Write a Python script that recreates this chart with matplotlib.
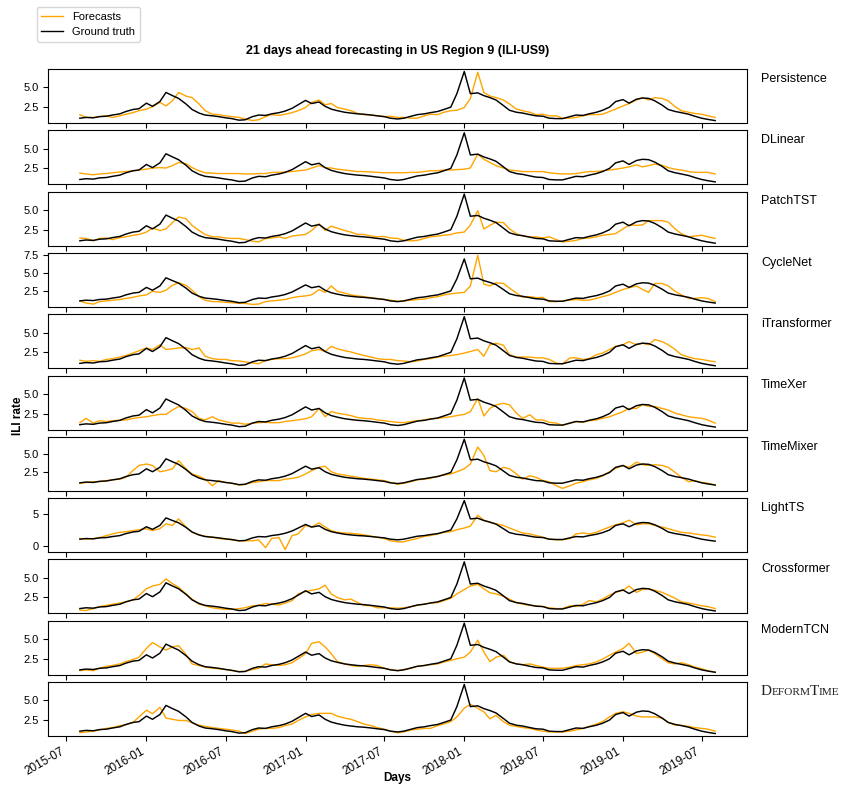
import matplotlib
matplotlib.use("Agg")
import matplotlib.pyplot as plt
import matplotlib.dates as mdates
from matplotlib.lines import Line2D
from matplotlib.ticker import MultipleLocator
from matplotlib.offsetbox import TextArea, HPacker, AnchoredOffsetbox
import pandas as pd

plt.rcParams["font.family"] = ["Liberation Sans", "DejaVu Sans"]

# Semi-monthly sampling dates (1st and 15th of each month)
dates = pd.date_range("2015-08-01", periods=97, freq="SMS")

ground_truth = [
    1.1, 1.2, 1.15, 1.3, 1.35, 1.5, 1.65, 1.95, 2.2, 2.3,
    3.0, 2.6, 3.2, 4.35, 3.95, 3.6, 2.9, 2.2, 1.75, 1.5,
    1.4, 1.3, 1.15, 1.05, 0.85, 0.9, 1.3, 1.5, 1.45, 1.65,
    1.8, 2.0, 2.35, 2.8, 3.35, 2.95, 3.15, 2.6, 2.25, 2.05,
    1.85, 1.75, 1.65, 1.6, 1.5, 1.4, 1.3, 1.1, 1.0, 1.1,
    1.35, 1.55, 1.65, 1.8, 1.95, 2.2, 2.5, 4.2, 7.0, 4.2,
    4.3, 3.95, 3.7, 3.4, 2.7, 2.1, 1.85, 1.75, 1.55, 1.4,
    1.35, 1.1, 1.05, 1.05, 1.3, 1.5, 1.45, 1.65, 1.85, 2.1,
    2.5, 3.2, 3.45, 3.0, 3.5, 3.65, 3.6, 3.3, 2.75, 2.2,
    1.95, 1.8, 1.6, 1.35, 1.1, 0.95, 0.8,
]

persistence = [
    1.55, 1.2, 1.2, 1.3, 1.4, 1.2, 1.4, 1.6, 1.8, 2.05,
    2.25, 2.55, 3.1, 2.65, 3.3, 4.35, 3.9, 3.7, 2.9, 2.05,
    1.6, 1.55, 1.4, 1.3, 1.2, 1.0, 0.8, 0.9, 1.3, 1.55,
    1.45, 1.6, 1.8, 2.05, 2.45, 3.1, 3.4, 2.8, 2.95, 2.45,
    2.25, 2.05, 1.7, 1.55, 1.5, 1.4, 1.3, 1.35, 1.2, 1.2,
    1.1, 1.1, 1.4, 1.6, 1.55, 1.85, 2.05, 2.1, 2.45, 3.6,
    6.9, 4.35, 3.9, 3.7, 3.4, 2.9, 2.25, 2.05, 1.85, 1.55,
    1.6, 1.4, 1.4, 1.1, 1.1, 1.2, 1.4, 1.55, 1.55, 1.6,
    1.95, 2.25, 2.65, 2.95, 3.4, 3.7, 3.4, 3.7, 3.6, 3.3,
    2.55, 2.05, 1.85, 1.7, 1.6, 1.4, 1.2,
]

dlinear = [
    1.9, 1.8, 1.7, 1.8, 1.85, 1.95, 2.05, 2.1, 2.2, 2.3,
    2.4, 2.55, 2.6, 2.55, 2.85, 3.25, 3.1, 2.6, 2.2, 1.95,
    1.9, 1.85, 1.85, 1.85, 1.85, 1.8, 1.8, 1.85, 1.85, 2.0,
    2.0, 2.05, 2.1, 2.2, 2.3, 2.55, 2.85, 2.6, 2.55, 2.4,
    2.3, 2.2, 2.1, 2.1, 2.05, 2.0, 1.95, 1.95, 1.95, 1.95,
    2.0, 2.0, 2.1, 2.2, 2.2, 2.3, 2.3, 2.35, 2.4, 2.55,
    4.3, 3.65, 3.25, 2.85, 2.55, 2.3, 2.2, 2.1, 2.1, 2.1,
    2.1, 1.95, 1.85, 1.8, 1.8, 1.85, 2.0, 2.1, 2.1, 2.2,
    2.3, 2.4, 2.55, 2.7, 2.95, 2.7, 2.85, 3.05, 2.9, 2.6,
    2.4, 2.3, 2.1, 2.0, 2.0, 2.0, 1.8,
]

patchtst = [
    1.45, 1.4, 1.1, 1.4, 1.45, 1.25, 1.5, 1.6, 1.8, 1.9,
    2.2, 2.7, 2.4, 2.6, 3.4, 4.1, 3.9, 3.05, 2.4, 1.9,
    1.6, 1.6, 1.45, 1.4, 1.4, 1.25, 1.05, 0.95, 1.4, 1.45,
    1.6, 1.4, 1.7, 1.8, 1.9, 2.4, 3.25, 2.4, 2.95, 2.7,
    2.4, 2.2, 1.9, 1.9, 1.7, 1.6, 1.65, 1.45, 1.4, 1.15,
    1.1, 1.15, 1.4, 1.6, 1.7, 1.8, 1.9, 2.1, 2.2, 3.1,
    4.9, 2.6, 3.05, 3.45, 3.4, 2.6, 2.0, 1.7, 1.6, 1.6,
    1.45, 1.6, 1.25, 0.95, 1.05, 1.15, 1.4, 1.45, 1.6, 1.8,
    1.9, 2.0, 2.6, 3.1, 3.05, 3.1, 3.65, 3.65, 3.65, 3.45,
    2.6, 2.0, 1.6, 1.7, 1.8, 1.6, 1.4,
]

cyclenet = [
    1.1, 0.8, 0.65, 1.0, 1.1, 1.2, 1.3, 1.45, 1.6, 1.8,
    1.95, 2.45, 2.3, 2.6, 3.3, 3.65, 3.3, 2.6, 1.7, 1.2,
    1.0, 1.0, 0.9, 0.85, 0.75, 0.75, 0.6, 0.65, 1.0, 1.1,
    1.2, 1.3, 1.55, 1.7, 1.8, 1.95, 2.7, 2.3, 3.2, 2.45,
    2.2, 1.95, 1.8, 1.7, 1.55, 1.45, 1.3, 1.2, 1.05, 1.1,
    1.2, 1.3, 1.35, 1.55, 1.7, 1.95, 2.1, 2.2, 2.3, 3.2,
    7.5, 3.45, 3.2, 3.65, 3.55, 2.9, 2.2, 1.6, 1.7, 1.55,
    1.6, 1.0, 1.0, 1.1, 1.2, 1.3, 1.2, 1.2, 1.45, 1.7,
    1.95, 2.3, 2.7, 2.95, 3.2, 2.7, 2.3, 3.55, 3.55, 3.2,
    2.45, 1.95, 1.45, 1.45, 1.55, 1.45, 1.0,
]

itransformer = [
    1.5, 1.35, 1.45, 1.35, 1.6, 1.7, 1.9, 2.1, 2.4, 2.7,
    3.05, 2.85, 3.45, 2.85, 2.95, 3.05, 3.1, 2.85, 3.05, 2.0,
    1.7, 1.6, 1.6, 1.45, 1.4, 1.3, 1.15, 1.05, 1.45, 1.6,
    1.7, 1.7, 1.8, 2.0, 2.3, 2.7, 2.85, 2.6, 3.25, 2.95,
    2.7, 2.55, 2.3, 2.1, 1.9, 1.7, 1.6, 1.6, 1.45, 1.4,
    1.3, 1.4, 1.6, 1.7, 1.9, 2.0, 2.1, 2.2, 2.4, 2.6,
    2.85, 2.0, 3.45, 3.65, 3.4, 2.2, 1.9, 1.9, 1.9, 1.8,
    1.8, 1.6, 1.15, 1.05, 1.8, 1.8, 1.6, 1.7, 2.2, 2.4,
    2.85, 3.25, 3.45, 3.85, 3.45, 3.65, 3.45, 4.1, 3.85, 3.45,
    2.85, 2.2, 1.9, 1.7, 1.6, 1.45, 1.3,
]

timexer = [
    1.35, 1.9, 1.3, 1.6, 1.5, 1.6, 1.65, 1.7, 1.9, 2.0,
    2.1, 2.25, 2.4, 2.4, 2.95, 3.4, 3.15, 2.75, 1.9, 1.7,
    2.1, 1.7, 1.5, 1.3, 1.3, 1.15, 1.3, 1.35, 1.4, 1.35,
    1.35, 1.5, 1.6, 1.7, 1.85, 2.1, 3.15, 2.1, 2.75, 2.55,
    2.4, 2.25, 2.0, 1.9, 1.85, 1.7, 1.6, 1.5, 1.4, 1.35,
    1.5, 1.6, 1.7, 1.85, 1.9, 2.0, 2.1, 2.25, 2.4, 2.75,
    4.4, 2.2, 3.15, 3.6, 3.8, 3.6, 2.55, 1.9, 2.35, 1.7,
    1.7, 1.4, 1.3, 1.0, 1.3, 1.5, 1.4, 1.6, 1.7, 1.9,
    2.1, 2.4, 2.75, 3.15, 3.15, 3.65, 3.4, 3.4, 3.15, 2.95,
    2.55, 2.35, 2.1, 2.0, 1.9, 1.7, 1.3,
]

timemixer = [
    1.0, 1.15, 1.25, 1.25, 1.4, 1.5, 1.6, 1.85, 2.75, 3.45,
    3.65, 3.45, 2.6, 2.75, 3.0, 4.1, 3.0, 2.3, 2.0, 1.6,
    0.7, 1.4, 1.15, 1.05, 0.8, 0.9, 1.15, 1.25, 1.4, 1.4,
    1.4, 1.6, 1.7, 1.85, 2.3, 2.75, 3.2, 3.35, 2.6, 2.3,
    2.15, 2.0, 1.85, 1.7, 1.6, 1.5, 1.4, 1.15, 0.9, 1.05,
    1.25, 1.5, 1.6, 1.7, 2.0, 2.15, 2.3, 2.6, 3.0, 3.65,
    5.95, 4.8, 2.75, 2.6, 3.2, 3.0, 2.3, 1.6, 2.05, 1.85,
    1.4, 1.25, 0.7, 0.35, 0.7, 1.05, 1.25, 1.5, 1.7, 2.05,
    2.6, 3.05, 3.45, 3.2, 3.9, 3.55, 3.45, 3.55, 3.45, 3.2,
    2.5, 1.85, 1.25, 1.4, 1.15, 1.05, 0.8,
]

lightts = [
    1.2, 1.1, 1.2, 1.35, 1.65, 1.9, 2.15, 2.25, 2.4, 2.55,
    2.7, 2.4, 2.7, 3.45, 3.2, 4.2, 2.95, 2.15, 1.75, 1.55,
    1.4, 1.2, 1.1, 1.0, 0.85, 0.85, 0.85, 1.0, -0.2, 1.2,
    1.35, -0.5, 1.65, 1.9, 3.2, 2.95, 3.6, 2.95, 2.4, 2.15,
    2.05, 2.0, 1.9, 1.75, 1.55, 1.4, 1.2, 0.85, 0.7, 0.7,
    1.0, 1.2, 1.55, 1.65, 1.9, 2.15, 2.25, 2.55, 2.8, 3.1,
    4.75, 4.0, 3.7, 3.45, 3.2, 2.8, 2.4, 2.05, 1.9, 1.65,
    1.4, 1.1, 1.0, 1.0, 1.2, 1.9, 2.05, 1.9, 2.15, 2.55,
    2.95, 3.3, 3.6, 4.0, 3.3, 3.45, 3.45, 3.2, 2.95, 2.7,
    2.4, 2.15, 2.05, 1.9, 1.75, 1.65, 1.4,
]

crossformer = [
    0.9, 0.85, 1.1, 1.35, 1.5, 1.65, 1.8, 1.95, 2.2, 2.75,
    3.6, 3.95, 4.15, 4.85, 4.25, 3.8, 2.95, 2.3, 1.65, 1.45,
    1.2, 1.1, 1.0, 1.0, 1.1, 1.2, 1.45, 1.5, 1.75, 1.65,
    1.55, 1.8, 2.1, 2.95, 3.25, 3.4, 3.6, 4.05, 2.95, 2.5,
    2.2, 2.3, 1.85, 1.5, 1.45, 1.2, 1.2, 1.2, 1.15, 1.2,
    1.35, 1.5, 1.65, 1.8, 1.85, 2.1, 2.4, 2.95, 3.5, 3.95,
    4.15, 3.6, 3.1, 2.95, 2.65, 2.3, 1.85, 1.65, 1.5, 1.45,
    1.35, 1.2, 1.1, 1.1, 1.45, 1.35, 1.65, 2.1, 1.95, 2.3,
    2.8, 3.15, 3.4, 3.95, 3.15, 3.5, 3.6, 3.4, 3.15, 2.8,
    2.4, 1.95, 1.8, 1.65, 1.45, 1.35, 1.1,
]

moderntcn = [
    1.0, 1.1, 1.0, 1.3, 1.55, 1.65, 1.85, 2.15, 2.4, 2.7,
    3.8, 4.55, 4.0, 3.6, 4.0, 4.15, 3.05, 1.85, 1.65, 1.45,
    1.3, 1.25, 1.15, 1.0, 0.9, 0.9, 1.15, 1.3, 1.85, 1.75,
    1.65, 1.75, 2.0, 2.5, 3.15, 4.45, 4.65, 4.0, 3.15, 2.15,
    1.85, 1.65, 1.55, 1.65, 1.75, 1.65, 1.3, 1.15, 1.0, 1.15,
    1.3, 1.55, 1.65, 1.75, 1.85, 2.1, 2.3, 2.5, 2.7, 3.35,
    4.85, 3.35, 2.15, 2.7, 2.95, 2.15, 1.85, 1.75, 1.85, 1.65,
    1.45, 1.3, 1.3, 1.3, 1.45, 1.65, 1.75, 1.85, 2.1, 2.45,
    2.95, 3.35, 3.8, 4.45, 3.15, 3.35, 3.6, 3.15, 2.5, 2.0,
    1.85, 2.0, 1.75, 1.45, 1.25, 1.0, 0.8,
]

deformtime = [
    0.9, 1.0, 1.1, 1.25, 1.45, 1.55, 1.8, 1.9, 2.2, 2.9,
    3.75, 3.3, 4.1, 2.75, 2.6, 2.45, 2.45, 2.15, 1.85, 1.7,
    1.55, 1.45, 1.35, 1.25, 1.1, 0.8, 1.1, 1.35, 1.45, 1.45,
    1.55, 1.8, 2.0, 2.45, 2.9, 3.2, 3.35, 3.35, 3.35, 3.0,
    2.75, 2.6, 2.3, 2.0, 1.8, 1.55, 1.35, 1.1, 0.9, 1.0,
    1.25, 1.35, 1.45, 1.45, 1.8, 2.0, 2.3, 2.9, 4.0, 4.5,
    4.0, 3.55, 2.65, 3.1, 2.3, 1.85, 1.7, 1.55, 1.45, 1.25,
    1.1, 1.0, 1.0, 1.0, 1.1, 1.25, 1.45, 1.7, 2.0, 2.3,
    2.9, 3.35, 3.55, 3.35, 3.0, 2.9, 2.9, 2.9, 2.75, 2.2,
    1.85, 1.85, 1.7, 1.55, 1.45, 1.35, 1.1,
]

model_names = ["Persistence", "DLinear", "PatchTST", "CycleNet", "iTransformer",
               "TimeXer", "TimeMixer", "LightTS", "Crossformer", "ModernTCN",
               "DeformTime"]
forecasts = [persistence, dlinear, patchtst, cyclenet, itransformer, timexer,
             timemixer, lightts, crossformer, moderntcn, deformtime]
ytick_steps = [2.5, 2.5, 2.5, 2.5, 2.5, 2.5, 2.5, 5, 2.5, 2.5, 2.5]

fig, axes = plt.subplots(len(model_names), 1, sharex=True, figsize=(8.44, 7.88), dpi=100)
fig.subplots_adjust(left=0.057, right=0.885, top=0.9124, bottom=0.066, hspace=0.135)

serif = ["Liberation Serif", "DejaVu Serif"]


def small_caps_label(ax, word_parts):
    """Place a small-caps style name to the right of an axes."""
    words = []
    for big, small in word_parts:
        words.append(HPacker(children=[
            TextArea(big, textprops=dict(family=serif, size=11, color="#222222")),
            TextArea(small, textprops=dict(family=serif, size=8.2, color="#222222")),
        ], align="baseline", pad=0, sep=0))
    pack = HPacker(children=words, align="baseline", pad=0, sep=-1.0)
    ax.add_artist(AnchoredOffsetbox(loc="center left", child=pack, pad=0, borderpad=0,
                                    frameon=False, bbox_to_anchor=(1.02, 0.82),
                                    bbox_transform=ax.transAxes))


for ax, name, fc, step in zip(axes, model_names, forecasts, ytick_steps):
    ax.plot(dates, fc, color="orange", lw=1.0)
    ax.plot(dates, ground_truth, color="black", lw=1.05)
    ax.yaxis.set_major_locator(MultipleLocator(step))
    ax.tick_params(axis="y", labelsize=8)
    ax.tick_params(axis="x", labelsize=8.5)
    if name == "DeformTime":
        small_caps_label(ax, [("D", "EFORM"), ("T", "IME")])
    else:
        ax.text(1.02, 0.82, name, transform=ax.transAxes, fontsize=9, va="center", ha="left")

axes[-1].xaxis.set_major_locator(mdates.MonthLocator(bymonth=[1, 7]))
axes[-1].xaxis.set_major_formatter(mdates.DateFormatter("%Y-%m"))
for lbl in axes[-1].get_xticklabels():
    lbl.set_rotation(30)
    lbl.set_ha("right")

fig.text(0.471, 0.935, "21 days ahead forecasting in US Region 9 (ILI-US9)",
         ha="center", va="center", fontsize=9, fontweight="bold")
fig.text(0.471, 0.013, "Days", ha="center", va="center", fontsize=8.5, fontweight="bold")
fig.text(0.021, 0.472, "ILI rate", ha="center", va="center", rotation=90,
         fontsize=8.5, fontweight="bold")

handles = [Line2D([], [], color="orange", lw=1.0), Line2D([], [], color="black", lw=1.0)]
fig.legend(handles, ["Forecasts", "Ground truth"], loc="upper left",
           bbox_to_anchor=(0.037, 0.998), fontsize=8, handlelength=2.0)

fig.savefig("out.png", dpi=100)
